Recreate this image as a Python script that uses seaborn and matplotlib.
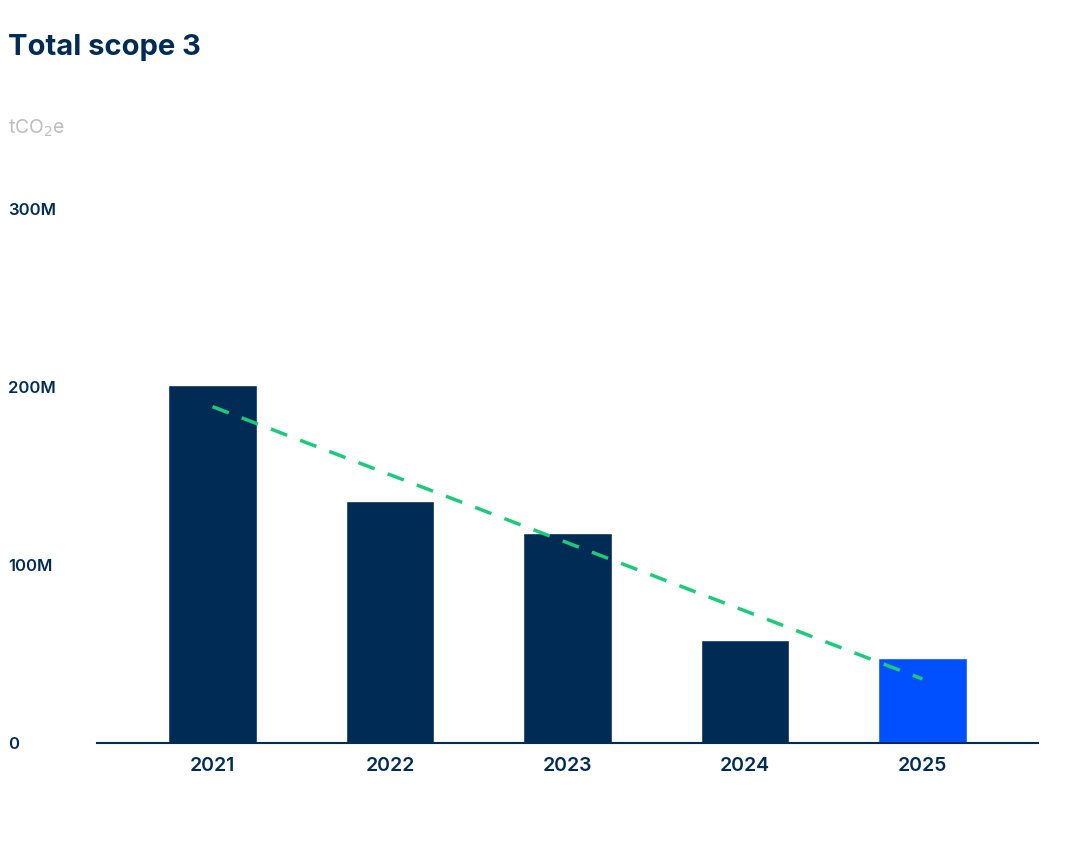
import matplotlib
matplotlib.use("Agg")
import matplotlib.pyplot as plt
import seaborn as sns
import pandas as pd

years = ["2021", "2022", "2023", "2024", "2025"]
emissions = [201e6, 136e6, 118e6, 58e6, 48e6]
trend_years = ["2021", "2025"]
trend_values = [189e6, 36e6]
yticks = [0, 100e6, 200e6, 300e6]
ytick_labels = ["0", "100M", "200M", "300M"]

navy = "#002B55"
blue = "#0050FF"
green = "#1DC97A"

sns.set_style("white")
plt.rcParams["font.family"] = ["Inter", "DejaVu Sans"]

df = pd.DataFrame({"year": years, "value": emissions})
colors = [navy] * 4 + [blue]

fig = plt.figure(figsize=(10.8, 8.64), dpi=100)
ax = fig.add_axes([0.09, 0.14, 0.871, 0.618])
sns.barplot(data=df, x="year", y="value", hue="year", palette=colors,
            legend=False, width=0.5, ax=ax, saturation=1)

pos = [years.index(y) for y in trend_years]
ax.plot(pos, trend_values, color=green, lw=2.5, ls=(0, (5, 4)))

ax.set_xlim(-0.65, 4.65)
ax.set_ylim(0, 300e6)
ax.set_yticks(yticks)
ax.set_yticklabels(ytick_labels, ha="left", fontsize=12, color=navy, fontweight="semibold")
ax.tick_params(axis="y", length=0, pad=64)
ax.tick_params(axis="x", length=0, pad=10, labelsize=14, labelcolor=navy)
for lbl in ax.get_xticklabels():
    lbl.set_fontweight("semibold")
ax.set_xlabel("")
ax.set_ylabel("")
for s in ["top", "right", "left"]:
    ax.spines[s].set_visible(False)
ax.spines["bottom"].set_color(navy)
ax.spines["bottom"].set_linewidth(1.5)

fig.text(0.007, 0.945, "Total scope 3", fontsize=21, fontweight="bold", color=navy, va="center")
fig.text(0.007, 0.852, "tCO$_2$e", fontsize=14, color="#BDBDBD", va="center")

fig.savefig("out.png", dpi=100)
